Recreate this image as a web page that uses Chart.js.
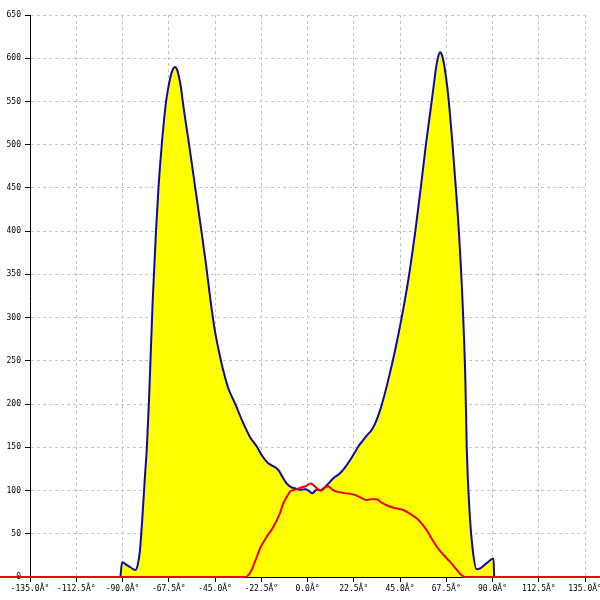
<!DOCTYPE html>
<html>
<head>
<meta charset="utf-8">
<script src="https://cdn.jsdelivr.net/npm/chart.js@4/dist/chart.umd.min.js"></script>
<style>
  html, body { margin: 0; padding: 0; background: #fff; }
  #wrap { width: 600px; height: 600px; }
</style>
</head>
<body>
<div id="wrap"><canvas id="chart" width="600" height="600"></canvas></div>
<script>
// upper curve (blue outline, yellow fill)
const blueAngles = [-91, -90.2, -88, -86, -83.7, -82.6, -81.5, -80.3, -79.1, -78.2, -77.1, -75.3, -73.7, -72.5, -70.9, -68.8, -67.7, -66.5, -65.5, -64.5, -63.5, -62.5, -61.5, -60.7, -57.6, -54.6, -51.6, -49.3, -47.2, -45, -43, -41, -38.5, -35.3, -32, -28, -24.7, -22, -19.1, -16.5, -14.2, -12, -10.1, -8, -6.1, -4, -1, 0.5, 2.3, 4.5, 6.9, 8.5, 10.9, 13, 15.8, 18, 20.7, 22.5, 24.7, 27, 29, 31.2, 33.5, 36.1, 39.3, 42.6, 45.8, 48.8, 51, 52.5, 55.1, 57.6, 60.4, 61.6, 62.6, 63.5, 64.5, 65.5, 66.5, 67.5, 68.5, 69.5, 70.5, 72, 73.5, 75.4, 76.8, 77.5, 78.8, 80.4, 82.3, 84, 87.2, 90.2, 90.5, 90.8];
const blueValues = [0, 17, 14, 11, 8, 14, 31, 70, 116, 147, 205, 320, 400, 450, 500, 550, 566, 580, 587, 590, 587, 578, 565, 550, 500, 450, 400, 360, 320, 284, 260, 239, 218, 201, 182, 162, 151, 140, 131.5, 128, 124, 115, 108, 104, 102.6, 101, 101.5, 100, 96.8, 101, 100, 104, 110, 115, 120, 126, 135, 142, 151, 158, 164, 170, 181, 199, 228, 262, 300, 340, 375, 401, 450, 500, 550, 572, 590, 601, 607, 603, 592, 576, 556, 530, 502, 455, 405, 320, 228, 147, 77, 31, 9, 10, 16, 21, 21, 0];

// lower curve (red)
const redAngles = [-150, -30, -28.5, -27, -25.5, -23.1, -20, -16.6, -13.4, -11.8, -10, -8.5, -6, -3.6, -1, 1.7, 3.5, 6.1, 8, 10.1, 12, 14.2, 18, 22.3, 25, 28.8, 31, 33.7, 36, 38.5, 42, 46.6, 50, 53.1, 55.5, 58, 60.5, 62.9, 66, 69.3, 72, 75, 76.5, 150];
const redValues = [0, 0, 3, 9, 18, 33, 46, 58, 74, 85, 93, 98.7, 101, 103, 105, 108, 105, 100, 103, 105, 101, 98.7, 97, 95.6, 93, 89, 90, 90, 86, 83, 80, 77.5, 73, 68, 62, 54, 44, 35, 26, 17.7, 10, 2, 0, 0];

const toPoints = (xs, ys) => xs.map((x, i) => ({ x, y: ys[i] }));

const tickFont = { family: "'DejaVu Sans Mono', monospace", size: 8 };

new Chart(document.getElementById("chart"), {
  type: "line",
  data: {
    datasets: [
      {
        label: "red",
        data: toPoints(redAngles, redValues),
        borderColor: "#ee0000",
        borderWidth: 2,
        pointRadius: 0,
        fill: false,
        cubicInterpolationMode: "monotone",
        clip: false,
        order: 0,
      },
      {
        label: "blue",
        data: toPoints(blueAngles, blueValues),
        borderColor: "#0a0aa8",
        backgroundColor: "#ffff00",
        borderWidth: 2,
        pointRadius: 0,
        fill: "origin",
        cubicInterpolationMode: "monotone",
        order: 1,
      },
    ],
  },
  options: {
    responsive: false,
    animation: false,
    layout: { padding: { top: 15, right: 15, left: 0, bottom: 0 } },
    plugins: { legend: { display: false }, tooltip: { enabled: false } },
    scales: {
      x: {
        type: "linear",
        min: -135,
        max: 135,
        ticks: {
          stepSize: 22.5,
          color: "#000",
          font: tickFont,
          padding: 2,
          maxRotation: 0,
          autoSkip: false,
          callback: (v) => v.toFixed(1) + "Â°",
        },
        grid: { color: "#c4c4c4", tickColor: "#000", tickLength: 5 },
        border: { display: true, color: "#000", dash: [3, 3] },
        afterFit: (s) => { s.height = 23; s.paddingLeft = 0; s.paddingRight = 0; },
      },
      y: {
        min: 0,
        max: 650,
        ticks: { stepSize: 50, color: "#000", font: tickFont, padding: 4 },
        grid: { color: "#c4c4c4", tickColor: "#000", tickLength: 5 },
        border: { display: true, color: "#000", dash: [3, 3] },
        afterFit: (s) => { s.width = 30; s.paddingTop = 0; s.paddingBottom = 0; },
      },
    },
  },
});
</script>
</body>
</html>
